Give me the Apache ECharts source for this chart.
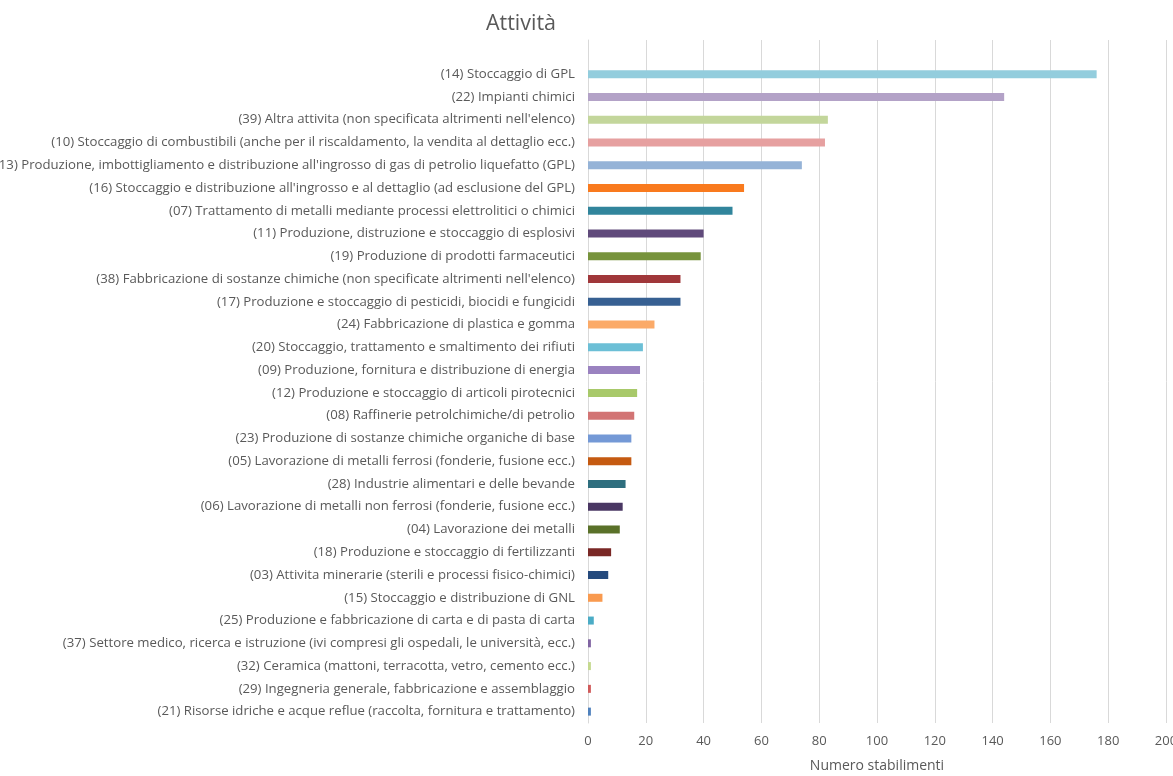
<!DOCTYPE html>
<html>
<head>
<meta charset="utf-8">
<title>Attività</title>
<script src="https://cdn.jsdelivr.net/npm/echarts@6/dist/echarts.min.js"></script>
<style>
  html, body { margin: 0; padding: 0; background: #ffffff; overflow: hidden; }
  #chart { width: 1173px; height: 776px; }
</style>
</head>
<body>
<div id="chart"></div>
<script>
// Activity categories, listed top to bottom (the first slot is a blank row above the bars)
const categories = [
  '',
  '(14) Stoccaggio di GPL',
  '(22) Impianti chimici',
  "(39) Altra attivita (non specificata altrimenti nell'elenco)",
  '(10) Stoccaggio di combustibili (anche per il riscaldamento, la vendita al dettaglio ecc.)',
  "(13) Produzione, imbottigliamento e distribuzione all'ingrosso di gas di petrolio liquefatto (GPL)",
  "(16) Stoccaggio e distribuzione all'ingrosso e al dettaglio (ad esclusione del GPL)",
  '(07) Trattamento di metalli mediante processi elettrolitici o chimici',
  '(11) Produzione, distruzione e stoccaggio di esplosivi',
  '(19) Produzione di prodotti farmaceutici',
  "(38) Fabbricazione di sostanze chimiche (non specificate altrimenti nell'elenco)",
  '(17) Produzione e stoccaggio di pesticidi, biocidi e fungicidi',
  '(24) Fabbricazione di plastica e gomma',
  '(20) Stoccaggio, trattamento e smaltimento dei rifiuti',
  '(09) Produzione, fornitura e distribuzione di energia',
  '(12) Produzione e stoccaggio di articoli pirotecnici',
  '(08) Raffinerie petrolchimiche/di petrolio',
  '(23) Produzione di sostanze chimiche organiche di base',
  '(05) Lavorazione di metalli ferrosi (fonderie, fusione ecc.)',
  '(28) Industrie alimentari e delle bevande',
  '(06) Lavorazione di metalli non ferrosi (fonderie, fusione ecc.)',
  '(04) Lavorazione dei metalli',
  '(18) Produzione e stoccaggio di fertilizzanti',
  '(03) Attivita minerarie (sterili e processi fisico-chimici)',
  '(15) Stoccaggio e distribuzione di GNL',
  '(25) Produzione e fabbricazione di carta e di pasta di carta',
  '(37) Settore medico, ricerca e istruzione (ivi compresi gli ospedali, le università, ecc.)',
  '(32) Ceramica (mattoni, terracotta, vetro, cemento ecc.)',
  '(29) Ingegneria generale, fabbricazione e assemblaggio',
  '(21) Risorse idriche e acque reflue (raccolta, fornitura e trattamento)'
];

// Number of establishments per activity
const stabilimenti = [
  null,
  176, 144, 83, 82, 74, 54, 50, 40, 39, 32, 32, 23, 19, 18, 17, 16, 15, 15, 13, 12, 11, 8, 7, 5, 2, 1, 1, 1, 1
];

// One colour per bar
const barColors = [
  '#ffffff',
  '#93cddd', '#b3a2c7', '#c3d69b', '#e6a0a0', '#95b3d7', '#f97a1e', '#31859c', '#604a7b',
  '#77933c', '#a0373a', '#376092', '#fbaa68', '#6cbfd6', '#9a82c0', '#a8c96a', '#d27474',
  '#7499d6', '#c55a11', '#2e6e7e', '#4a3763', '#5a7129', '#7a2826', '#254a7d', '#f99a4f',
  '#4bacc6', '#8064a2', '#c5d98f', '#d05a5a', '#4f81bd'
];

const valueTicks = { min: 0, max: 200, interval: 20 };

const FONT = '"Open Sans", Lato, sans-serif';

const chart = echarts.init(document.getElementById('chart'), null, { renderer: 'canvas' });

chart.setOption({
  backgroundColor: '#ffffff',
  animation: false,
  textStyle: { fontFamily: FONT },
  title: {
    text: 'Attività',
    left: 516,
    top: 8,
    textAlign: 'center',
    textStyle: { fontSize: 21.5, fontWeight: 'normal', color: '#595959', fontFamily: FONT }
  },
  grid: { left: 588, right: 7, top: 40, bottom: 53, containLabel: false, outerBoundsMode: 'none' },
  xAxis: {
    type: 'value',
    min: valueTicks.min,
    max: valueTicks.max,
    interval: valueTicks.interval,
    name: 'Numero stabilimenti',
    nameLocation: 'middle',
    nameGap: 36,
    nameTextStyle: { fontSize: 14, color: '#595959', fontFamily: FONT },
    axisLine: { show: false },
    axisTick: { show: false },
    axisLabel: { fontSize: 13, color: '#595959', margin: 12, fontFamily: FONT },
    splitLine: { show: true, lineStyle: { color: '#d9d9d9', width: 1 } }
  },
  yAxis: {
    type: 'category',
    data: categories,
    inverse: true,
    axisLine: { show: true, lineStyle: { color: '#d9d9d9', width: 1 } },
    axisTick: { show: false },
    axisLabel: { fontSize: 13.2, color: '#595959', margin: 13, interval: 0, fontFamily: FONT },
    splitLine: { show: false }
  },
  series: [{
    type: 'bar',
    data: stabilimenti,
    barWidth: 8,
    itemStyle: {
      color: function (p) { return barColors[p.dataIndex]; }
    }
  }]
});
</script>
</body>
</html>
